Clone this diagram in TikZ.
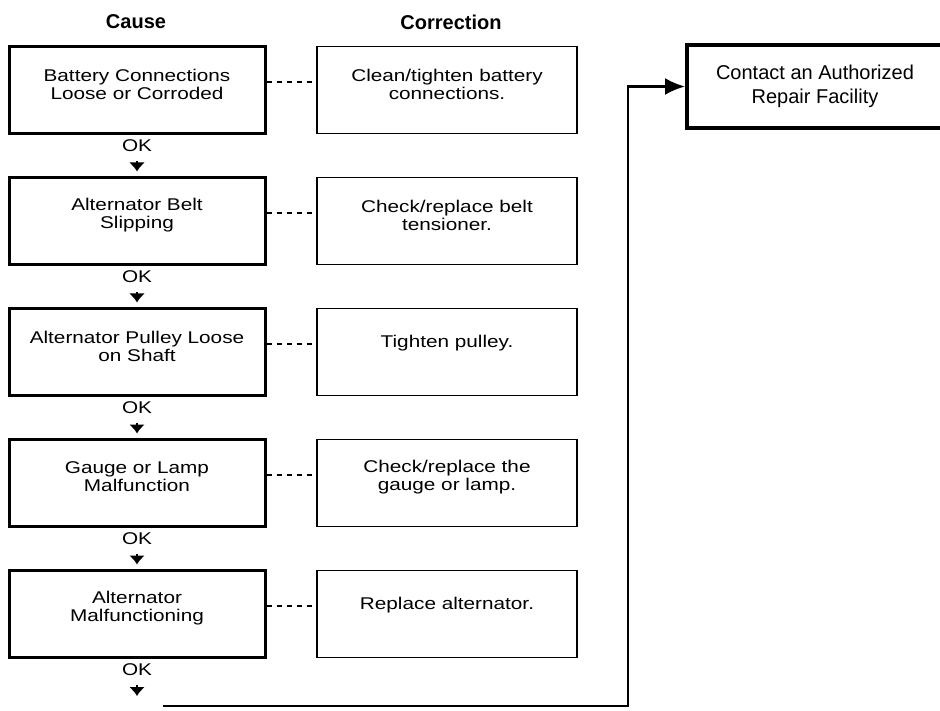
\documentclass[tikz,border=0pt]{standalone}
\usepackage{fontspec}
\setmainfont{Liberation Sans}
\newfontfamily\scanfont{Liberation Sans}[FakeStretch=1.22]
\usetikzlibrary{arrows.meta, positioning}

\begin{document}
\begin{tikzpicture}[x=1pt, y=-1pt, line join=miter,
    causebox/.style={draw, line width=3pt, minimum width=256, minimum height=87, inner sep=0pt},
    fixbox/.style={draw, line width=1.4pt, minimum width=260, minimum height=87, inner sep=0pt},
    helpbox/.style={draw, line width=4pt, minimum width=256, minimum height=83, inner sep=0pt,
        align=center, font=\fontsize{20}{24}\selectfont},
    boxtext/.style={font=\scanfont\fontsize{17}{18}\selectfont, align=center, yshift=6pt},
    oktext/.style={font=\scanfont\fontsize{17}{18}\selectfont, inner sep=0pt},
    okarrow/.style={line width=2pt, -{Latex[length=9pt, width=16pt]}},
    dotlink/.style={line width=1.2pt, dash pattern=on 5pt off 5pt},
    header/.style={font=\bfseries\fontsize{20}{22}\selectfont}]
\useasboundingbox (0,0) rectangle (940,711);

% column heads
\node[header] (hcause) at (136,22) {Cause};
\node[header] (hfix) at (451,22) {Correction};

% causes
\node[causebox, label={[boxtext]center:{Battery Connections\\Loose or Corroded}}] (c1) at (137,90) {};
\node[causebox, label={[boxtext]center:{Alternator Belt\\Slipping}}] (c2) at (137,221) {};
\node[causebox, label={[boxtext]center:{Alternator Pulley Loose\\on Shaft}}] (c3) at (137,352) {};
\node[causebox, label={[boxtext]center:{Gauge or Lamp\\Malfunction}}] (c4) at (137,483) {};
\node[causebox, label={[boxtext]center:{Alternator\\Malfunctioning}}] (c5) at (137,614) {};

% corrections
\node[fixbox, label={[boxtext]center:{Clean/tighten battery\\connections.}}] (r1) at (447,90) {};
\node[fixbox, label={[boxtext]center:{Check/replace belt\\tensioner.}}] (r2) at (447,221) {};
\node[fixbox, label={[boxtext, yshift=3pt]center:{Tighten pulley.}}] (r3) at (447,352) {};
\node[fixbox, label={[boxtext]center:{Check/replace the\\gauge or lamp.}}] (r4) at (447,483) {};
\node[fixbox, label={[boxtext, yshift=3pt]center:{Replace alternator.}}] (r5) at (447,614) {};

\node[helpbox] (help) at (815,86.5) {Contact an Authorized\\Repair Facility};

\draw[dotlink] ([yshift=8pt]c1.east) -- ([yshift=8pt]r1.west);
\draw[dotlink] ([yshift=8pt]c2.east) -- ([yshift=8pt]r2.west);
\draw[dotlink] ([yshift=8pt]c3.east) -- ([yshift=8pt]r3.west);
\draw[dotlink] ([yshift=8pt]c4.east) -- ([yshift=8pt]r4.west);
\draw[dotlink] ([yshift=8pt]c5.east) -- ([yshift=8pt]r5.west);

% OK steps
\node[oktext] (k1) at (137,146) {OK};
\node[oktext] (k2) at (137,277) {OK};
\node[oktext] (k3) at (137,408) {OK};
\node[oktext] (k4) at (137,539) {OK};
\node[oktext] (k5) at (137,670) {OK};

\draw[okarrow, shorten <=9pt, shorten >=4.5pt] (k1) -- (c2);
\draw[okarrow, shorten <=9pt, shorten >=4.5pt] (k2) -- (c3);
\draw[okarrow, shorten <=9pt, shorten >=4.5pt] (k3) -- (c4);
\draw[okarrow, shorten <=9pt, shorten >=4.5pt] (k4) -- (c5);
\coordinate (kend) at (137,696);
\draw[okarrow, shorten <=9pt] (k5) -- (kend);

% return to repair facility
\coordinate (back) at (163,706);
\coordinate (corner) at (628,706);
\draw[line width=2.5pt, -{Latex[length=20pt, width=17pt]}] (back) -- (corner) |- (help.west);
\end{tikzpicture}
\end{document}
